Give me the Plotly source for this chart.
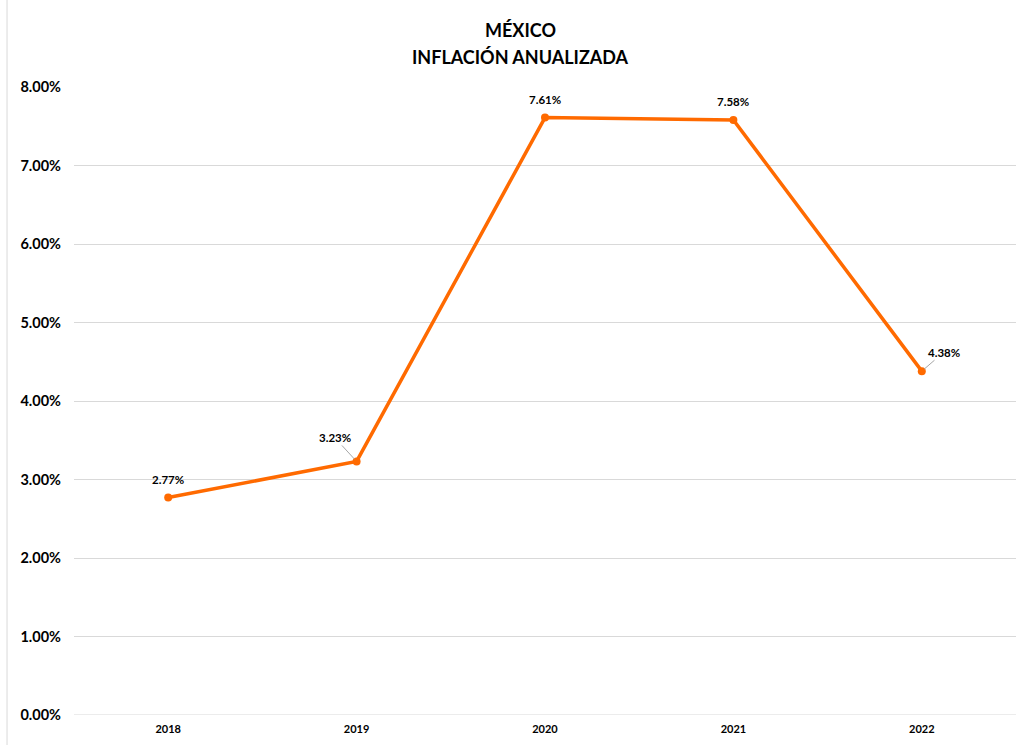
import plotly.graph_objects as go

years = ["2018", "2019", "2020", "2021", "2022"]
inflation = [0.0277, 0.0323, 0.0761, 0.0758, 0.0438]
labels = ["2.77%", "3.23%", "7.61%", "7.58%", "4.38%"]
# label offsets (pixels) relative to each point; leader line drawn when flagged
label_ax = [0, -22, 0, 0, 22]
label_ay = [-18, -24, -18, -18, -19]
leader = [False, True, False, False, True]

orange = "#FF6A00"
font_family = "Lato, 'Open Sans', sans-serif"

fig = go.Figure()
fig.add_trace(go.Scatter(
    x=years, y=inflation, mode="lines+markers",
    line=dict(color=orange, width=3.5),
    marker=dict(color=orange, size=8),
    hoverinfo="skip",
))

for i, (y, t, ax, ay, ld) in enumerate(zip(inflation, labels, label_ax, label_ay, leader)):
    fig.add_annotation(
        x=i, y=y, text="<b>" + t + "</b>",
        showarrow=True, arrowhead=0, arrowwidth=1,
        arrowcolor="#A6A6A6" if ld else "rgba(0,0,0,0)",
        ax=ax, ay=ay, standoff=3,
        font=dict(family=font_family, size=11.5, color="#000000"),
    )

# title as two lines
fig.add_annotation(xref="paper", yref="paper", x=0.4735, y=1.0908,
                   text="<b>MÉXICO</b>", showarrow=False, yanchor="middle",
                   font=dict(family=font_family, size=18, color="#000000"))
fig.add_annotation(xref="paper", yref="paper", x=0.4735, y=1.0478,
                   text="<b>INFLACIÓN ANUALIZADA</b>", showarrow=False, yanchor="middle",
                   font=dict(family=font_family, size=18, color="#000000"))

fig.add_shape(type="line", xref="paper", yref="paper",
              x0=-0.0711, x1=-0.0711, y0=-0.1, y1=1.2,
              line=dict(color="#D9D9D9", width=1))

fig.update_layout(
    width=1018, height=745,
    margin=dict(l=74, r=2, t=87, b=30),
    paper_bgcolor="white", plot_bgcolor="white",
    showlegend=False,
    xaxis=dict(
        type="category", range=[-0.5, len(years) - 0.5], autorange=False,
        showgrid=False, showline=False, zeroline=False,
        tickfont=dict(family=font_family, size=11, color="#000000"),
        ticks="", ticklabelstandoff=6,
        tickprefix="<b>", ticksuffix="</b>",
    ),
    yaxis=dict(
        range=[0, 0.08], autorange=False, dtick=0.01, tickformat=".2%",
        showgrid=True, gridcolor="#D9D9D9", gridwidth=1,
        zeroline=False, showline=False, ticks="",
        tickfont=dict(family=font_family, size=14.5, color="#000000"),
        ticklabelstandoff=12,
        tickprefix="<b>", ticksuffix="</b>",
    ),
)
fig.add_shape(type="line", xref="paper", yref="y", x0=0, x1=1, y0=0, y1=0,
              line=dict(color="#D9D9D9", width=1), layer="below")

fig.write_html("out.html", config={"displayModeBar": False},
               post_script="document.body.style.margin='0';document.body.style.padding='0';")
